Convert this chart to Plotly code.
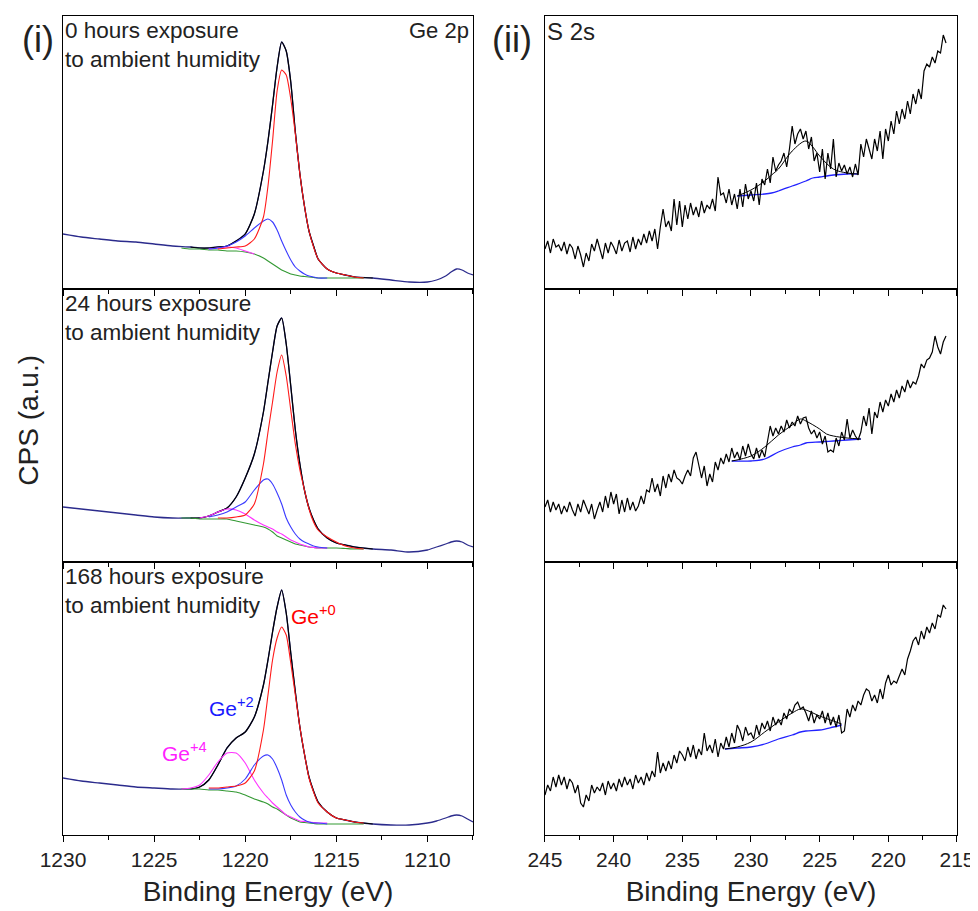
import numpy as np
import plotly.graph_objects as go
from plotly.subplots import make_subplots

# ---------------- Ge 2p (left column) ----------------
ge_x = [1230, 1229, 1228, 1227, 1226, 1225, 1224, 1223, 1222.5, 1222, 1221.5, 1221, 1220.5, 1220,
        1219.5, 1219, 1218.75, 1218.5, 1218.25, 1218, 1217.75, 1217.5, 1217.25, 1217, 1216.75,
        1216.5, 1216.25, 1216, 1215.5, 1215, 1214.5, 1214, 1213, 1212, 1211, 1210, 1209.5, 1209,
        1208.7, 1208.4, 1208.1, 1207.8, 1207.5]

ge_data_0h = [55, 52, 50, 48, 47, 45, 43, 42, 41, 41, 42, 43, 48, 55, 75, 118, 148, 184, 222, 247,
              238, 207, 157, 115, 83, 58, 43, 30, 20, 16, 14, 12, 11, 9, 7, 7, 9, 13, 17, 20, 19, 16, 14]
ge_data_24h = [55, 53, 51, 49, 47, 45, 44, 44, 44, 46, 50, 54, 65, 84, 108, 150, 180, 210, 236, 244,
               218, 176, 132, 98, 72, 54, 42, 33, 24, 19, 17, 15, 13, 12, 10, 12, 15, 18, 20, 21, 20, 17, 15]
ge_data_168h = [57, 54, 52, 50, 48, 47, 46, 46, 48, 55, 70, 87, 97, 103, 118, 150, 175, 203, 228, 245,
                222, 182, 143, 108, 81, 58, 44, 33, 23, 17, 15, 13, 11, 10, 10, 12, 14, 17, 19, 20, 19, 16, 13]

fit_x = [1223.5, 1223, 1222.5, 1222, 1221.5, 1221, 1220.5, 1220, 1219.5, 1219, 1218.75, 1218.5,
         1218.25, 1218, 1217.75, 1217.5, 1217.25, 1217, 1216.75, 1216.5, 1216.25, 1216, 1215.5,
         1215, 1214.5, 1214, 1213.5]
N = None
# 0 h
bg_0h = [41, 40, 40, 39, 39, 38, 38, 37, 35, 31, 28, 25, 22, 19, 17, 15, 14, 13, 12.5, 12, 11.5, 11, 11, 11, 11, 11, 11]
ge0_0h = [N, N, N, N, 40, 41, 42, 43, 50, 72, 103, 148, 198, 219, 214, 190, 155, 115, 83, 58, 42, 30, 20, 16, 14, 12, 11]
ge2_0h = [N, N, N, 40, 41, 43, 47, 53, 61, 68, 70, 67, 59, 48, 38, 29, 22, 18, 15, 13, 12, 11, 11, N, N, N, N]
ge4_0h = [N, N, N, 40, 41, 42, 41, 38, 35, N, N, N, N, N, N, N, N, N, N, N, N, N, N, N, N, N, N]
# 24 h
bg_24h = [44, 44, 43, 43, 43, 43, 41, 39, 37, 35, 33, 30, 26, 24, 22, 20, 18, 17, 16, 15, 14.5, 14, 14, 14, 13.5, 13, 13]
ge0_24h = [N, N, N, N, 44, 44, 45, 47, 58, 98, 130, 160, 190, 207, 186, 152, 118, 92, 72, 53, 40, 32, 25, 20, 16, 14, 13]
ge2_24h = [N, N, N, 45, 47, 50, 55, 60, 72, 82, 83, 78, 69, 58, 44, 35, 28, 23, 20, 18, 16, 15, 14, N, N, N, N]
ge4_24h = [N, N, 44, 46, 50, 53, 52, 48, 42, 37, 35, 33, 30, 28, 25, 22, 20, 18, 16.5, 15, 14.5, 14, 14, N, N, N, N]
# 168 h
bg_168h = [46, 46, 46, 45, 45, 44, 43, 40, 36, 33, 31, 28, 26, 23, 20, 17, 15, 13, 12.5, 12, 11.5, 11, 11, 11, 11, 11, 11]
ge0_168h = [N, N, N, 47, 47, 48, 49, 52, 64, 105, 140, 175, 197, 208, 200, 172, 140, 108, 81, 57, 43, 32, 23, 17, 15, 13, 12]
ge2_168h = [N, N, N, 46, 46, 47, 49, 56, 70, 79, 80, 76, 67, 55, 40, 30, 23, 18, 15, 13, 12, 12, 11, N, N, N, N]
ge4_168h = [46, 47, 50, 60, 73, 82, 82, 72, 55, 42, 37, 32, 28, 24, 20, 18, 16, 14, 13.5, 13, 12.5, 12, 12, N, N, N, N]

# ---------------- S 2s (right column) ----------------
s_x = np.round(np.arange(245.0, 215.7, -0.2), 1)

s_data_0h = [40, 48, 36, 50, 42, 44, 38, 47, 35, 45, 41, 30, 43, 34, 22, 36, 28, 45, 38, 50,
             40, 30, 46, 36, 47, 42, 35, 49, 38, 46, 48, 37, 52, 40, 50, 44, 55, 46, 58, 48,
             60, 40, 62, 80, 62, 68, 58, 90, 64, 88, 62, 84, 70, 86, 74, 82, 72, 88, 76, 84,
             80, 90, 78, 112, 94, 96, 86, 100, 84, 95, 80, 100, 82, 105, 90, 98, 88, 106, 84, 110,
             104, 120, 106, 132, 118, 124, 128, 136, 122, 140, 163, 145, 155, 160, 150, 158, 140, 152, 128, 136,
             117, 140, 110, 136, 120, 150, 112, 126, 118, 124, 115, 122, 112, 125, 114, 145, 132, 150, 140, 130,
             150, 138, 158, 130, 160, 148, 168, 155, 178, 165, 180, 170, 188, 175, 195, 185, 200, 190, 218, 225,
             222, 232, 226, 238, 236, 254, 246]
s_data_24h = [55, 62, 50, 60, 52, 58, 48, 56, 50, 60, 52, 46, 58, 50, 62, 55, 48, 58, 43, 52,
              60, 50, 66, 54, 70, 58, 68, 48, 62, 50, 64, 52, 60, 51, 56, 66, 58, 72, 70, 84,
              70, 78, 66, 86, 74, 88, 80, 92, 84, 82, 78, 86, 92, 86, 104, 110, 98, 84, 96, 76,
              88, 80, 100, 92, 104, 98, 108, 100, 114, 104, 110, 102, 116, 106, 118, 108, 103, 114, 104, 112,
              105, 122, 136, 126, 134, 128, 136, 130, 142, 134, 140, 136, 146, 138, 144, 145, 134, 128, 132, 124,
              130, 118, 126, 110, 112, 110, 124, 116, 130, 122, 143, 124, 132, 126, 122, 130, 146, 136, 154, 128,
              150, 144, 160, 150, 162, 156, 168, 160, 172, 164, 176, 170, 182, 174, 180, 178, 186, 198, 194, 202,
              204, 210, 226, 215, 208, 220, 226]
s_data_168h = [40, 50, 44, 58, 48, 60, 50, 58, 46, 56, 52, 42, 50, 32, 28, 40, 34, 50, 42, 48,
               44, 52, 40, 54, 46, 52, 44, 56, 48, 58, 50, 56, 46, 60, 52, 58, 50, 62, 54, 64,
               58, 83, 62, 72, 64, 74, 66, 80, 72, 84, 80, 74, 88, 78, 90, 76, 86, 80, 102, 84,
               90, 82, 96, 78, 92, 86, 98, 88, 102, 92, 110, 104, 94, 108, 100, 102, 96, 110, 100, 112,
               106, 114, 104, 118, 110, 116, 110, 122, 116, 126, 122, 130, 133, 126, 128, 122, 114, 124, 112, 120,
               116, 124, 112, 122, 110, 118, 108, 120, 102, 104, 126, 118, 130, 124, 134, 130, 140, 146, 144, 134,
               140, 132, 146, 136, 152, 160, 150, 154, 152, 160, 166, 160, 176, 184, 194, 198, 190, 204, 196, 208,
               202, 212, 206, 220, 218, 230, 226]

s_bg_x_0h = [231.0, 230.0, 229.0, 228.5, 228.0, 227.0, 226.0, 225.5, 225.0, 224.0, 223.0, 222.2]
s_bg_0h = [93, 94, 95, 96, 98, 103, 108, 111, 112, 114, 115, 115]
s_fit_0h = [93, 99, 108, 114, 120, 138, 148, 142, 133, 120, 116, 115]

s_bg_x_24h = [231.4, 230.0, 229.0, 228.0, 227.0, 226.4, 226.0, 225.0, 224.5, 224.0, 223.0, 222.0]
s_bg_24h = [101, 101, 103, 110, 115, 117, 119, 120, 120.5, 121, 122, 123]
s_fit_24h = [101, 106, 115, 127, 137, 143, 141, 133, 128, 126, 124, 123]

s_bg_x_168h = [231.9, 231.0, 230.0, 229.0, 228.0, 227.0, 226.4, 226.0, 225.0, 224.0, 223.4]
s_bg_168h = [86, 87, 88, 91, 96, 100, 103, 104, 105, 108, 110]
s_fit_168h = [86, 88, 93, 103, 113, 122, 126, 125, 119, 114, 111]

panel_labels = ["0 hours exposure<br>to ambient humidity",
                "24 hours exposure<br>to ambient humidity",
                "168 hours exposure<br>to ambient humidity"]

FONT = "Arial, Liberation Sans, sans-serif"
TXT = "#222222"
NAVY = "#2b2b8c"
RED = "#ff1a1a"
BLUE = "#3a3aff"
MAG = "#ff33ff"
GREEN = "#339933"

fig = make_subplots(rows=3, cols=2, vertical_spacing=0, horizontal_spacing=0.08)

ge_sets = [
    (ge_data_0h, bg_0h, ge4_0h, ge2_0h, ge0_0h),
    (ge_data_24h, bg_24h, ge4_24h, ge2_24h, ge0_24h),
    (ge_data_168h, bg_168h, ge4_168h, ge2_168h, ge0_168h),
]
s_sets = [
    (s_data_0h, s_bg_x_0h, s_bg_0h, s_fit_0h),
    (s_data_24h, s_bg_x_24h, s_bg_24h, s_fit_24h),
    (s_data_168h, s_bg_x_168h, s_bg_168h, s_fit_168h),
]

for r, (dat, bg, g4, g2, g0) in enumerate(ge_sets, start=1):
    fig.add_trace(go.Scatter(x=ge_x, y=dat, mode="lines", line=dict(color=NAVY, width=1.3, shape="spline", smoothing=0.6)), row=r, col=1)
    env_x = [x for x in ge_x if 1213 <= x <= 1223]
    env_y = [y for x, y in zip(ge_x, dat) if 1213 <= x <= 1223]
    fig.add_trace(go.Scatter(x=env_x, y=env_y, mode="lines", line=dict(color="black", width=1.2, shape="spline", smoothing=0.6)), row=r, col=1)
    for ys, col in [(bg, GREEN), (g4, MAG), (g2, BLUE), (g0, RED)]:
        fig.add_trace(go.Scatter(x=fit_x, y=ys, mode="lines", connectgaps=False,
                                 line=dict(color=col, width=1.1, shape="spline", smoothing=0.6)), row=r, col=1)

for r, (dat, bx, bgv, fitv) in enumerate(s_sets, start=1):
    fig.add_trace(go.Scatter(x=bx, y=bgv, mode="lines", line=dict(color="#2222ff", width=1.3, shape="spline")), row=r, col=2)
    fig.add_trace(go.Scatter(x=s_x, y=dat, mode="lines", line=dict(color="black", width=1.2)), row=r, col=2)
    fig.add_trace(go.Scatter(x=bx, y=fitv, mode="lines", line=dict(color="black", width=1.0, shape="spline")), row=r, col=2)

row_dom = {1: [2/3, 1.0], 2: [1/3, 2/3], 3: [0.0, 1/3]}
col_dom = {1: [0.0, 0.4586], 2: [0.5391, 1.0]}

for r in range(1, 4):
    for c in range(1, 3):
        idx = (r - 1) * 2 + c
        xa = "xaxis" if idx == 1 else f"xaxis{idx}"
        ya = "yaxis" if idx == 1 else f"yaxis{idx}"
        xr = [1230, 1207.5] if c == 1 else [245, 215]
        fig.layout[xa].update(
            domain=col_dom[c], range=xr, autorange=False, automargin=False,
            showline=True, linecolor="black", linewidth=1.4, mirror=True,
            ticks="outside", ticklen=6, tickwidth=1.3, tickcolor="black",
            dtick=5, tick0=0, showgrid=False, zeroline=False,
            minor=dict(dtick=2.5, tick0=0, ticks="outside", ticklen=3.5, tickwidth=1.1, tickcolor="black", showgrid=False),
            showticklabels=(r == 3),
            tickfont=dict(family=FONT, size=21, color=TXT),
        )
        if r == 3:
            fig.layout[xa].update(title=dict(text="Binding Energy (eV)", font=dict(family=FONT, size=28, color=TXT), standoff=10))
        fig.layout[ya].update(
            domain=row_dom[r], range=[0, 273], autorange=False, automargin=False,
            showline=True, linecolor="black", linewidth=1.4, mirror=True,
            ticks="", showticklabels=False, showgrid=False, zeroline=False,
        )

ann = []
for r in range(1, 4):
    idx = (r - 1) * 2 + 1
    xs = "x" if idx == 1 else f"x{idx}"
    ys = "y" if idx == 1 else f"y{idx}"
    ann.append(dict(text=panel_labels[r - 1], xref=f"{xs} domain", yref=f"{ys} domain",
                    x=0.0, y=1.0, xanchor="left", yanchor="top", align="left", showarrow=False,
                    font=dict(family=FONT, size=22.5, color=TXT)))

ann.append(dict(text="Ge 2p", xref="x domain", yref="y domain", x=0.995, y=1.0,
                xanchor="right", yanchor="top", showarrow=False, font=dict(family=FONT, size=22, color=TXT)))
ann.append(dict(text="S 2s", xref="x2 domain", yref="y2 domain", x=0.0, y=1.0,
                xanchor="left", yanchor="top", showarrow=False, font=dict(family=FONT, size=24, color=TXT)))

# oxidation-state labels in the 168 h panel
ann.append(dict(text="Ge<sup>+0</sup>", xref="x5", yref="y5", x=1217.6, y=205, xanchor="left", yanchor="bottom",
                showarrow=False, font=dict(family=FONT, size=21, color="#ff0000")))
ann.append(dict(text="Ge<sup>+2</sup>", xref="x5", yref="y5", x=1222.1, y=113, xanchor="left", yanchor="bottom",
                showarrow=False, font=dict(family=FONT, size=21, color="#1a1aff")))
ann.append(dict(text="Ge<sup>+4</sup>", xref="x5", yref="y5", x=1224.7, y=68, xanchor="left", yanchor="bottom",
                showarrow=False, font=dict(family=FONT, size=21, color="#ff22ff")))

ann.append(dict(text="(i)", xref="paper", yref="paper", x=-0.028, y=0.971, xanchor="center", yanchor="middle",
                showarrow=False, font=dict(family=FONT, size=36, color=TXT)))
ann.append(dict(text="(ii)", xref="paper", yref="paper", x=0.502, y=0.971, xanchor="center", yanchor="middle",
                showarrow=False, font=dict(family=FONT, size=36, color=TXT)))
ann.append(dict(text="CPS (a.u.)", xref="paper", yref="paper", x=-0.039, y=0.506, xanchor="center", yanchor="middle",
                textangle=-90, showarrow=False, font=dict(family=FONT, size=28, color=TXT)))

# page body has an 8 px margin: figure is sized/offset so the plot area lands where the reference has it
fig.update_layout(
    width=970, height=903,
    margin=dict(l=55, r=21, t=8, b=76, autoexpand=False),
    paper_bgcolor="white", plot_bgcolor="white",
    showlegend=False, annotations=ann,
)

fig.write_html("out.html")
